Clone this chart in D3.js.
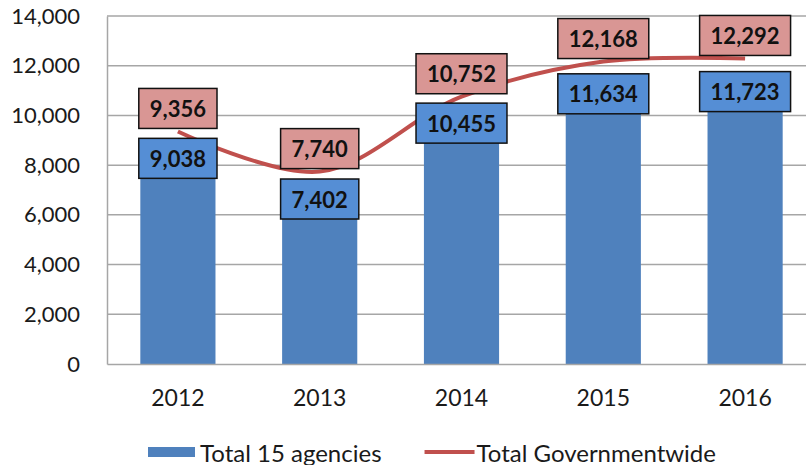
<!DOCTYPE html>
<html>
<head>
<meta charset="utf-8">
<script src="https://cdn.jsdelivr.net/npm/d3@7"></script>
<style>
  body { margin: 0; background: #fff; }
  svg { display: block; font-family: Lato, "Open Sans", sans-serif; }
</style>
</head>
<body>
<div id="chart"></div>
<script>
// data
const years = ["2012", "2013", "2014", "2015", "2016"];
const agencies = [9038, 7402, 10455, 11634, 11723];
const governmentwide = [9356, 7740, 10752, 12168, 12292];
const yTicks = [0, 2000, 4000, 6000, 8000, 10000, 12000, 14000];
const seriesNames = ["Total 15 agencies", "Total Governmentwide"];

const W = 806, H = 465;
const margin = { top: 16, right: -10, bottom: 101, left: 107 };
const width = W - margin.left - margin.right;
const height = H - margin.top - margin.bottom;

const barColor = "#4F81BD", lineColor = "#C0504D";
const fmt = d3.format(",");

const svg = d3.select("#chart")
  .append("svg")
  .attr("width", W)
  .attr("height", H);

const g = svg.append("g")
  .attr("transform", `translate(${margin.left},${margin.top})`);

const x = d3.scaleBand()
  .domain(years)
  .range([0, width])
  .paddingInner(0.47)
  .paddingOuter(0.235);

const y = d3.scaleLinear()
  .domain([0, 14000])
  .range([height, 0]);

// gridlines
g.append("g")
  .selectAll("line")
  .data(yTicks.slice(1))
  .enter()
  .append("line")
  .attr("x1", 0)
  .attr("x2", width)
  .attr("y1", d => y(d))
  .attr("y2", d => y(d))
  .attr("stroke", "#A6A6A6")
  .attr("stroke-width", 1.5);

// y axis
const yAxis = g.append("g")
  .call(d3.axisLeft(y).tickValues(yTicks).tickFormat(fmt).tickSize(0).tickPadding(27));
yAxis.select(".domain").attr("stroke", "#A6A6A6").attr("stroke-width", 1.5);
yAxis.selectAll("text")
  .style("font-size", "22px")
  .style("font-family", "Lato, sans-serif")
  .attr("fill", "#1a1a1a");

// bars
g.selectAll("rect.bar")
  .data(years)
  .enter()
  .append("rect")
  .attr("class", "bar")
  .attr("x", d => x(d))
  .attr("y", (d, i) => y(agencies[i]))
  .attr("width", x.bandwidth())
  .attr("height", (d, i) => height - y(agencies[i]))
  .attr("fill", barColor);

// x axis
const xAxis = g.append("g")
  .attr("transform", `translate(0,${height})`)
  .call(d3.axisBottom(x).tickSize(0).tickPadding(26));
xAxis.select(".domain").attr("stroke", "#A6A6A6").attr("stroke-width", 1.5);
xAxis.selectAll("text")
  .style("font-size", "23px")
  .style("font-family", "Lato, sans-serif")
  .attr("fill", "#1a1a1a");

// smoothed line
const cx = d => x(d) + x.bandwidth() / 2;
const line = d3.line()
  .x(d => cx(d[0]))
  .y(d => y(d[1]))
  .curve(d3.curveCatmullRom.alpha(0.5));

g.append("path")
  .datum(years.map((d, i) => [d, governmentwide[i]]))
  .attr("fill", "none")
  .attr("stroke", lineColor)
  .attr("stroke-width", 4)
  .attr("d", line);

// label boxes
function addLabel(cxPos, yTop, value, fill) {
  const lg = g.append("g");
  const t = lg.append("text")
    .attr("x", cxPos)
    .attr("y", yTop + 20)
    .attr("text-anchor", "middle")
    .attr("dominant-baseline", "central")
    .style("font-size", "22px")
    .style("font-weight", "bold")
    .attr("fill", "#111")
    .text(fmt(value));
  const w = t.node().getComputedTextLength() + 22;
  lg.insert("rect", "text")
    .attr("x", cxPos - w / 2)
    .attr("y", yTop)
    .attr("width", w)
    .attr("height", 40)
    .attr("fill", fill)
    .attr("stroke", "#111")
    .attr("stroke-width", 1.5);
}

years.forEach((d, i) => {
  addLabel(cx(d), y(agencies[i]) - 1, agencies[i], "#558ED5");
  addLabel(cx(d), y(governmentwide[i]) - 43, governmentwide[i], "#D99694");
});

// legend
const legend = svg.append("g").attr("transform", "translate(148,452)");
legend.append("rect")
  .attr("x", 0).attr("y", -5)
  .attr("width", 47).attr("height", 10)
  .attr("fill", barColor);
const lt1 = legend.append("text")
  .attr("x", 52).attr("y", 0)
  .attr("dominant-baseline", "central")
  .style("font-size", "24px")
  .attr("fill", "#1a1a1a")
  .text(seriesNames[0]);
const off = 52 + lt1.node().getComputedTextLength() + 43;
legend.append("line")
  .attr("x1", off).attr("x2", off + 50)
  .attr("y1", 0).attr("y2", 0)
  .attr("stroke", lineColor)
  .attr("stroke-width", 4);
legend.append("text")
  .attr("x", off + 52).attr("y", 0)
  .attr("dominant-baseline", "central")
  .style("font-size", "24px")
  .attr("fill", "#1a1a1a")
  .text(seriesNames[1]);
</script>
</body>
</html>
